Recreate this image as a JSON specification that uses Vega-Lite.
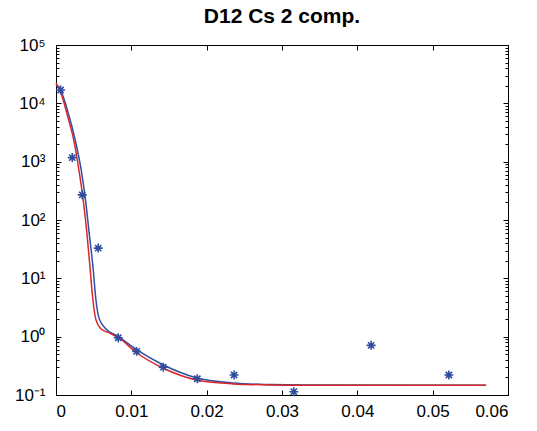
{
  "$schema": "https://vega.github.io/schema/vega-lite/v6.json",
  "width": 452,
  "height": 350,
  "autosize": "none",
  "padding": {"left": 56, "top": 45, "right": 29, "bottom": 36},
  "background": "white",
  "config": {
    "view": {"stroke": "black", "strokeWidth": 1},
    "font": "Liberation Sans",
    "axis": {"domainColor": "black", "tickColor": "black", "labelColor": "black", "labelFont": "Liberation Sans", "labelFontSize": 17, "grid": false, "title": null}
  },
  "title": {"text": "D12 Cs 2 comp.", "fontSize": 21, "fontWeight": "bold", "font": "Liberation Sans", "color": "black", "offset": 9},
  "datasets": {
    "curves": [
      {"x": 0, "y": 20700, "s": "blue"},
      {"x": 0.0006, "y": 16900, "s": "blue"},
      {"x": 0.0017, "y": 6300, "s": "blue"},
      {"x": 0.0026, "y": 2200, "s": "blue"},
      {"x": 0.0033, "y": 780, "s": "blue"},
      {"x": 0.0039, "y": 230, "s": "blue"},
      {"x": 0.0044, "y": 60, "s": "blue"},
      {"x": 0.0049, "y": 16, "s": "blue"},
      {"x": 0.0053, "y": 4.3, "s": "blue"},
      {"x": 0.0057, "y": 2.1, "s": "blue"},
      {"x": 0.0065, "y": 1.41, "s": "blue"},
      {"x": 0.0083, "y": 1.0, "s": "blue"},
      {"x": 0.0107, "y": 0.6, "s": "blue"},
      {"x": 0.0142, "y": 0.33, "s": "blue"},
      {"x": 0.0187, "y": 0.196, "s": "blue"},
      {"x": 0.0235, "y": 0.161, "s": "blue"},
      {"x": 0.0284, "y": 0.151, "s": "blue"},
      {"x": 0.033, "y": 0.148, "s": "blue"},
      {"x": 0.0571, "y": 0.147, "s": "blue"},
      {"x": 0, "y": 22300, "s": "red"},
      {"x": 0.0006, "y": 15800, "s": "red"},
      {"x": 0.0015, "y": 6300, "s": "red"},
      {"x": 0.0024, "y": 2200, "s": "red"},
      {"x": 0.003, "y": 780, "s": "red"},
      {"x": 0.0036, "y": 225, "s": "red"},
      {"x": 0.0041, "y": 60, "s": "red"},
      {"x": 0.0045, "y": 16, "s": "red"},
      {"x": 0.0049, "y": 4.3, "s": "red"},
      {"x": 0.0053, "y": 1.95, "s": "red"},
      {"x": 0.006, "y": 1.35, "s": "red"},
      {"x": 0.0072, "y": 1.14, "s": "red"},
      {"x": 0.0083, "y": 0.96, "s": "red"},
      {"x": 0.0107, "y": 0.53, "s": "red"},
      {"x": 0.0142, "y": 0.29, "s": "red"},
      {"x": 0.0187, "y": 0.18, "s": "red"},
      {"x": 0.0235, "y": 0.155, "s": "red"},
      {"x": 0.0284, "y": 0.149, "s": "red"},
      {"x": 0.033, "y": 0.147, "s": "red"},
      {"x": 0.0571, "y": 0.147, "s": "red"}
    ],
    "points": [
      {"x": 0.00061, "y": 16900},
      {"x": 0.00216, "y": 1175},
      {"x": 0.00348, "y": 270},
      {"x": 0.0056, "y": 33},
      {"x": 0.00826, "y": 0.96},
      {"x": 0.0107, "y": 0.56},
      {"x": 0.01423, "y": 0.30},
      {"x": 0.01876, "y": 0.19},
      {"x": 0.02364, "y": 0.22},
      {"x": 0.03157, "y": 0.114},
      {"x": 0.04183, "y": 0.71},
      {"x": 0.05215, "y": 0.22}
    ]
  },
  "layer": [
    {
      "data": {"name": "curves"},
      "transform": [{"filter": "datum.s == 'blue'"}],
      "mark": {"type": "line", "color": "#2E4FA3", "strokeWidth": 1.5, "interpolate": "monotone"},
      "encoding": {
        "x": {"field": "x", "type": "quantitative", "scale": {"domain": [0, 0.06], "nice": false, "zero": false},
          "axis": {"orient": "bottom", "values": [0, 0.01, 0.02, 0.03, 0.04, 0.05, 0.06], "tickSize": -5, "labelPadding": 13, "labelExpr": "format(datum.value, '.2~f')", "title": null}},
        "y": {"field": "y", "type": "quantitative", "scale": {"type": "log", "domain": [0.1, 100000], "nice": false},
          "axis": {"orient": "left", "title": null,
            "values": [0.1,0.2,0.3,0.4,0.5,0.6,0.7,0.8,0.9,1,2,3,4,5,6,7,8,9,10,20,30,40,50,60,70,80,90,100,200,300,400,500,600,700,800,900,1000,2000,3000,4000,5000,6000,7000,8000,9000,10000,20000,30000,40000,50000,60000,70000,80000,90000,100000],
            "tickSize": {"condition": {"test": "abs(log(datum.value)/LN10 - round(log(datum.value)/LN10)) < 1e-6", "value": -5}, "value": -3},
            "labelPadding": 16,
            "labelExpr": "abs(log(datum.value)/LN10 - round(log(datum.value)/LN10)) < 1e-6 ? ('10' + (round(log(datum.value)/LN10) == -1 ? '⁻¹' : round(log(datum.value)/LN10) == 0 ? '⁰' : round(log(datum.value)/LN10) == 1 ? '¹' : round(log(datum.value)/LN10) == 2 ? '²' : round(log(datum.value)/LN10) == 3 ? '³' : round(log(datum.value)/LN10) == 4 ? '⁴' : '⁵')) : ''"}}
      }
    },
    {
      "data": {"name": "curves"},
      "transform": [{"filter": "datum.s == 'red'"}],
      "mark": {"type": "line", "color": "#D9262B", "strokeWidth": 1.5, "interpolate": "monotone"},
      "encoding": {
        "x": {"field": "x", "type": "quantitative",
          "axis": {"orient": "top", "values": [0, 0.01, 0.02, 0.03, 0.04, 0.05, 0.06], "tickSize": -5, "labels": false, "title": null}},
        "y": {"field": "y", "type": "quantitative",
          "axis": {"orient": "right", "title": null, "labels": false,
            "values": [0.1,0.2,0.3,0.4,0.5,0.6,0.7,0.8,0.9,1,2,3,4,5,6,7,8,9,10,20,30,40,50,60,70,80,90,100,200,300,400,500,600,700,800,900,1000,2000,3000,4000,5000,6000,7000,8000,9000,10000,20000,30000,40000,50000,60000,70000,80000,90000,100000],
            "tickSize": {"condition": {"test": "abs(log(datum.value)/LN10 - round(log(datum.value)/LN10)) < 1e-6", "value": -5}, "value": -3}}}
      }
    },
    {
      "data": {"name": "points"},
      "mark": {"type": "point", "shape": "M0,-1L0,1M-1,0L1,0M-0.7,-0.7L0.7,0.7M-0.7,0.7L0.7,-0.7", "filled": false, "color": "#2F4C9E", "strokeWidth": 1.6, "size": 80, "opacity": 1},
      "encoding": {
        "x": {"field": "x", "type": "quantitative", "axis": null},
        "y": {"field": "y", "type": "quantitative", "axis": null}
      }
    }
  ]
}
